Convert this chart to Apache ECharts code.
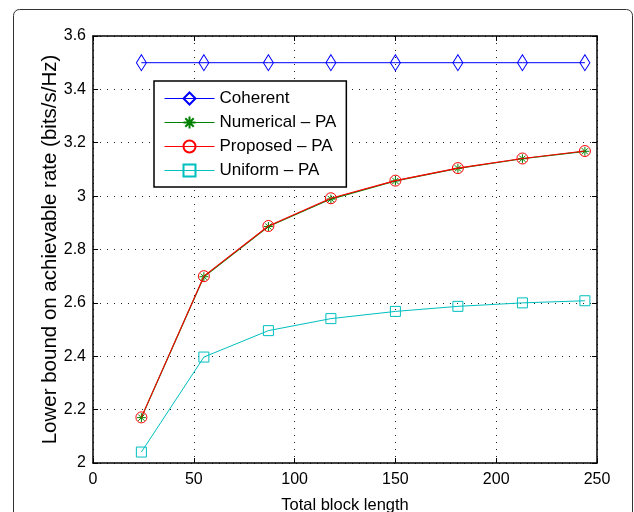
<!DOCTYPE html>
<html>
<head>
<meta charset="utf-8">
<script src="https://cdn.jsdelivr.net/npm/echarts@6/dist/echarts.min.js"></script>
<style>
  html, body { margin: 0; padding: 0; background: #fff; }
  #main { width: 634px; height: 512px; }
</style>
</head>
<body>
<div id="main"></div>
<script>
// values
var blockLength = [24, 55, 87, 118, 150, 181, 213, 244];
var coherent = [3.5, 3.5, 3.5, 3.5, 3.5, 3.5, 3.5, 3.5];
var numerical = [2.170, 2.698, 2.886, 2.989, 3.057, 3.104, 3.140, 3.168];
var proposed = [2.171, 2.700, 2.888, 2.992, 3.058, 3.105, 3.141, 3.169];
var uniform = [2.041, 2.397, 2.496, 2.541, 2.568, 2.587, 2.600, 2.608];

var font = 'Liberation Sans, Arial, Helvetica, sans-serif';
var starPath = 'path://M5,0L5,10M0,5L10,5M1.5,1.5L8.5,8.5M1.5,8.5L8.5,1.5';

function pairs(ys) {
    var out = [];
    for (var i = 0; i < ys.length; i++) {
        out.push([blockLength[i], ys[i]]);
    }
    return out;
}

var gridLine = {
    show: true,
    lineStyle: { color: '#222', type: [1, 6], width: 1 }
};
var axisLine = { show: true, onZero: false, lineStyle: { color: '#000', width: 1.5 } };
var tickIn = { show: true, inside: true, length: 5, lineStyle: { color: '#000', width: 1 } };

function hollow(c) {
    return { color: 'transparent', borderColor: c, borderWidth: 1 };
}

var option = {
    animation: false,
    backgroundColor: '#fff',
    textStyle: { fontFamily: font },
    graphic: [{
        type: 'rect',
        shape: { x: 13.5, y: 9.5, width: 619, height: 540, r: 6 },
        style: { fill: 'none', stroke: '#333', lineWidth: 1 },
        silent: true,
        z: -10
    }],
    grid: { left: 93, top: 36, right: 37, bottom: 49, outerBoundsMode: 'none', containLabel: false },
    legend: {
        left: 154,
        top: 81,
        orient: 'vertical',
        backgroundColor: '#fff',
        borderColor: '#000',
        borderWidth: 1.5,
        borderRadius: 0,
        padding: [9, 10, 8, 10],
        itemWidth: 50,
        itemHeight: 15,
        itemGap: 7,
        lineStyle: { width: 1 },
        textStyle: { fontFamily: font, fontSize: 17, color: '#000' },
        data: ['Coherent', 'Numerical \u2013 PA', 'Proposed \u2013 PA', 'Uniform \u2013 PA']
    },
    xAxis: [{
        type: 'value',
        min: 0, max: 250, interval: 50,
        name: 'Total block length',
        nameLocation: 'middle',
        nameGap: 34,
        nameMoveOverlap: false,
        nameTextStyle: { fontFamily: font, fontSize: 16.5, color: '#000' },
        axisLine: axisLine,
        axisTick: tickIn,
        axisLabel: { color: '#000', fontSize: 16, fontFamily: font, margin: 9 },
        splitLine: gridLine
    }, {
        type: 'value',
        position: 'top',
        min: 0, max: 250, interval: 50,
        axisLine: axisLine,
        axisTick: tickIn,
        axisLabel: { show: false },
        splitLine: { show: false }
    }],
    yAxis: [{
        type: 'value',
        min: 2, max: 3.6, interval: 0.2,
        name: 'Lower bound on achievable rate (bits/s/Hz)',
        nameLocation: 'middle',
        nameGap: 32,
        nameMoveOverlap: false,
        nameTextStyle: { fontFamily: font, fontSize: 20.5, color: '#000' },
        axisLine: axisLine,
        axisTick: tickIn,
        axisLabel: { color: '#000', fontSize: 16, fontFamily: font, margin: 7 },
        splitLine: gridLine
    }, {
        type: 'value',
        position: 'right',
        min: 2, max: 3.6, interval: 0.2,
        axisLine: axisLine,
        axisTick: tickIn,
        axisLabel: { show: false },
        splitLine: { show: false }
    }],
    series: [{
        name: 'Coherent',
        type: 'line',
        data: pairs(coherent),
        symbol: 'diamond',
        symbolSize: [10, 16],
        lineStyle: { color: '#0000ff', width: 1 },
        itemStyle: hollow('#0000ff'),
        z: 3
    }, {
        name: 'Numerical \u2013 PA',
        type: 'line',
        data: pairs(numerical),
        symbol: starPath,
        symbolSize: 9,
        lineStyle: { color: '#008000', width: 1.2 },
        itemStyle: hollow('#008000'),
        z: 4
    }, {
        name: 'Proposed \u2013 PA',
        type: 'line',
        data: pairs(proposed),
        symbol: 'circle',
        symbolSize: 11,
        lineStyle: { color: '#ff0000', width: 1.1 },
        itemStyle: hollow('#ff0000'),
        z: 5
    }, {
        name: 'Uniform \u2013 PA',
        type: 'line',
        data: pairs(uniform),
        symbol: 'rect',
        symbolSize: 10,
        lineStyle: { color: '#00bfbf', width: 1 },
        itemStyle: hollow('#00bfbf'),
        z: 3
    }]
};

var chart = echarts.init(document.getElementById('main'));
chart.setOption(option);
</script>
</body>
</html>
